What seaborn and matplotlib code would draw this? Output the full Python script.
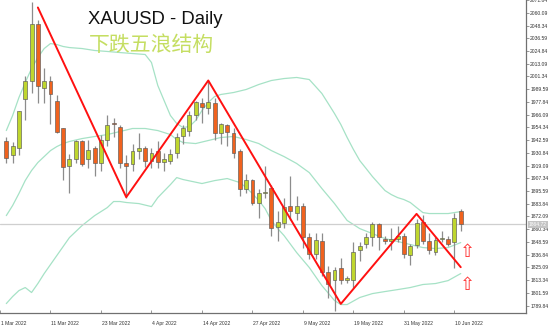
import matplotlib
matplotlib.use("Agg")
import numpy as np
import pandas as pd
import seaborn as sns
import matplotlib.pyplot as plt

# ---------------- data ----------------
opens = [1942.2, 1928.4, 1935.7, 1980.1, 1996.7, 2050.2, 1991.1, 1996.7, 1979.1, 1953.3,
         1919.1, 1925.6, 1941.3, 1924.7, 1935.7, 1921.0, 1943.1, 1958.8, 1955.1, 1921.0,
         1920.1, 1932.1, 1935.7, 1923.7, 1932.1, 1922.8, 1923.7, 1931.1, 1946.8, 1951.4,
         1966.2, 1976.4, 1971.8, 1976.4, 1948.7, 1956.1, 1949.6, 1932.1, 1897.9, 1905.3,
         1884.1, 1894.2, 1898.8, 1862.8, 1866.5, 1881.3, 1875.7, 1882.2, 1852.7, 1837.9,
         1849.9, 1820.4, 1813.0, 1824.1, 1813.9, 1813.9, 1840.7, 1847.1, 1852.7, 1864.7,
         1851.7, 1849.0, 1851.7, 1854.5, 1836.1, 1846.2, 1867.4, 1849.0, 1839.7, 1851.7,
         1851.7, 1848.1, 1877.6]
highs = [1945.0, 1940.4, 1969.9, 2001.3, 2070.5, 2053.0, 2008.7, 2001.3, 1983.8, 1954.2,
         1930.2, 1943.1, 1943.1, 1943.1, 1937.6, 1947.7, 1965.3, 1963.4, 1956.1, 1928.4,
         1939.4, 1948.7, 1937.6, 1935.7, 1942.2, 1931.1, 1934.8, 1948.7, 1956.1, 1969.9,
         1979.1, 1981.0, 1996.7, 1981.9, 1958.8, 1957.0, 1954.2, 1934.8, 1911.7, 1907.1,
         1897.9, 1919.1, 1900.7, 1877.6, 1888.7, 1909.9, 1891.4, 1884.1, 1857.3, 1856.4,
         1857.3, 1826.8, 1825.9, 1834.2, 1817.6, 1848.1, 1848.1, 1856.4, 1867.4, 1866.5,
         1854.5, 1861.0, 1863.7, 1856.4, 1847.1, 1870.2, 1873.0, 1856.4, 1852.7, 1859.1,
         1854.5, 1875.7, 1879.4]
lows = [1921.9, 1921.0, 1928.4, 1960.7, 1985.6, 1976.4, 1976.4, 1957.9, 1948.7, 1905.3,
        1894.2, 1921.0, 1919.1, 1916.4, 1909.9, 1914.5, 1937.6, 1945.0, 1916.4, 1889.6,
        1914.5, 1925.6, 1917.3, 1916.4, 1916.4, 1914.5, 1920.1, 1926.5, 1939.4, 1946.8,
        1960.7, 1958.8, 1967.1, 1943.1, 1939.4, 1936.7, 1926.5, 1891.4, 1894.2, 1883.0,
        1871.1, 1889.6, 1854.5, 1849.9, 1861.0, 1868.4, 1868.4, 1843.4, 1833.3, 1833.3,
        1817.6, 1797.3, 1785.3, 1810.2, 1811.1, 1806.5, 1831.4, 1843.4, 1845.3, 1840.7,
        1847.1, 1840.7, 1848.1, 1834.2, 1827.7, 1843.4, 1847.1, 1837.9, 1836.1, 1848.1,
        1844.4, 1824.1, 1859.1]
closes = [1926.5, 1936.7, 1969.0, 1996.7, 2050.2, 1992.1, 1996.7, 1984.7, 1950.5, 1917.3,
          1924.7, 1941.3, 1920.1, 1933.9, 1921.0, 1943.1, 1956.1, 1957.0, 1921.0, 1919.1,
          1932.1, 1935.7, 1923.7, 1931.1, 1922.8, 1924.7, 1930.2, 1945.0, 1953.3, 1965.3,
          1977.3, 1972.7, 1978.2, 1948.7, 1957.0, 1950.5, 1931.1, 1897.9, 1905.3, 1884.1,
          1893.3, 1895.1, 1861.9, 1867.4, 1880.4, 1876.7, 1881.3, 1852.7, 1837.9, 1850.8,
          1820.4, 1810.2, 1823.1, 1813.0, 1815.7, 1839.7, 1844.4, 1852.7, 1865.6, 1852.7,
          1849.9, 1851.7, 1854.5, 1837.0, 1845.3, 1866.5, 1849.9, 1841.6, 1850.8, 1852.2,
          1847.1, 1871.1, 1864.7]

upper_idx = [0, 1, 2, 3, 4, 5, 6, 7, 8, 9, 10, 12, 14, 16, 18, 20, 22, 23, 24, 25, 26, 27, 28,
             29, 30, 31, 32, 33, 34, 36, 38, 40, 42, 44, 46, 48, 49, 50, 51, 52, 53, 54, 55,
             56, 57, 58, 59, 60, 61, 62, 63, 64, 65, 66, 67, 68, 70, 72]
upper_val = [1951.4, 1965.3, 1981.9, 1995.7, 2008.7, 2018.8, 2027.1, 2031.7, 2030.8, 2029.0,
             2028.0, 2027.1, 2025.3, 2024.4, 2023.4, 2022.5, 2021.6, 2014.2, 1993.0, 1979.1,
             1965.3, 1957.9, 1954.2, 1955.1, 1960.7, 1969.9, 1977.3, 1982.8, 1984.7, 1986.5,
             1989.3, 1993.9, 1997.6, 1999.4, 2000.4, 1998.5, 1992.1, 1985.6, 1976.4, 1967.1,
             1957.0, 1945.0, 1933.9, 1923.7, 1916.4, 1909.0, 1902.5, 1896.0, 1892.3, 1889.5,
             1887.7, 1885.0, 1880.3, 1875.7, 1874.8, 1874.8, 1874.8, 1876.6]
mid_idx = [0, 1, 2, 3, 4, 5, 6, 7, 8, 9, 10, 12, 14, 16, 18, 20, 22, 24, 26, 27, 28, 30, 32,
           34, 36, 38, 40, 42, 44, 46, 48, 50, 52, 54, 56, 58, 60, 62, 64, 66, 68, 70, 72]
mid_val = [1872.9, 1882.2, 1893.3, 1905.3, 1914.5, 1921.9, 1927.4, 1932.9, 1936.6, 1939.4,
           1941.3, 1944.0, 1945.9, 1947.7, 1950.5, 1953.3, 1953.3, 1951.4, 1947.7, 1943.1,
           1940.4, 1939.4, 1942.2, 1945.0, 1945.9, 1943.1, 1939.4, 1932.9, 1927.4, 1921.0,
           1912.6, 1897.9, 1884.0, 1868.4, 1860.9, 1856.3, 1851.7, 1849.0, 1846.2, 1843.4,
           1842.5, 1843.4, 1848.0]
low_idx = [0, 1, 2, 3, 4, 5, 6, 7, 8, 9, 10, 12, 14, 16, 17, 18, 19, 21, 23, 24, 26, 27, 28,
           31, 33, 35, 37, 38, 39, 40, 41, 42, 43, 44, 46, 48, 50, 52, 53, 54, 56, 58, 60, 62,
           64, 66, 68, 70, 72]
low_val = [1791.7, 1798.2, 1803.7, 1806.5, 1801.9, 1810.2, 1819.4, 1827.7, 1836.0, 1844.3,
           1852.6, 1863.7, 1872.9, 1880.3, 1885.9, 1885.9, 1885.0, 1884.0, 1881.2, 1889.5,
           1901.5, 1908.0, 1906.2, 1902.5, 1905.2, 1907.1, 1903.4, 1898.8, 1893.2, 1886.8,
           1879.4, 1868.3, 1860.9, 1854.5, 1838.8, 1825.0, 1808.3, 1794.5, 1790.8, 1790.8,
           1797.3, 1800.9, 1802.8, 1804.6, 1806.5, 1809.3, 1810.2, 1812.9, 1819.4]

zz_idx = [5, 19, 32, 53, 65, 72]
zz_val = [2065.0, 1889.9, 1997.6, 1791.4, 1874.5, 1825.3]

xtick_idx = [-1, 7, 15, 23, 31, 39, 47, 55, 63, 71]
xtick_labels = ["1 Mar 2022", "11 Mar 2022", "23 Mar 2022", "4 Apr 2022", "14 Apr 2022",
                "27 Apr 2022", "9 May 2022", "19 May 2022", "31 May 2022", "10 Jun 2022"]
ytick_labels = ["2071.84", "2060.09", "2048.34", "2036.59", "2024.84", "2013.09", "2001.34",
                "1989.59", "1977.84", "1966.09", "1954.34", "1942.59", "1930.84", "1919.09",
                "1907.34", "1895.59", "1883.84", "1872.09", "1860.34", "1848.59", "1836.84",
                "1825.09", "1813.34", "1801.59", "1789.84"]
last_price = 1864.72
arrow_idx = [73.1, 73.1]
arrow_val = [1839.5, 1808.5]
title = "XAUUSD - Daily"
subtitle = "下跌五浪结构"

# ---------------- figure ----------------
sns.set_theme(style="white")
plt.rcParams["font.family"] = ["Liberation Sans", "DejaVu Sans"]

W, H = 554, 329
fig = plt.figure(figsize=(W / 100, H / 100), dpi=100)
ax = fig.add_axes([0, 16 / H, 526 / W, 313 / H])

BULL = "#bfd62e"
BEAR = "#f0621e"
BAND = "#a6e2c6"

n = len(opens)
idx = np.arange(n)
o = np.array(opens); c = np.array(closes)
hi = np.array(highs); lo = np.array(lows)
bull = c >= o

# bands
bands = pd.concat([
    pd.DataFrame({"i": upper_idx, "v": upper_val, "b": "upper"}),
    pd.DataFrame({"i": mid_idx, "v": mid_val, "b": "mid"}),
    pd.DataFrame({"i": low_idx, "v": low_val, "b": "low"}),
])
sns.lineplot(data=bands, x="i", y="v", units="b", estimator=None, color=BAND,
             lw=0.9, ax=ax, sort=True, zorder=1)

# current price line
ax.axhline(last_price, color="#cfcfcf", lw=0.9, zorder=1.5)

# wicks
ax.vlines(idx, lo, hi, color="#8c8c8c", lw=0.9, zorder=2)
# bodies
bottoms = np.minimum(o, c)
heights = np.maximum(np.abs(c - o), 0.6)
colors = [BULL if b else BEAR for b in bull]
ax.bar(idx, heights, bottom=bottoms, width=0.62, color=colors,
       edgecolor="#5a5a5a", linewidth=0.45, zorder=3)

# zigzag
sns.lineplot(x=zz_idx, y=zz_val, color="#ff1010", lw=1.4, ax=ax, sort=False,
             estimator=None, zorder=4)

# arrows (hollow up arrows)
for ai, av in zip(arrow_idx, arrow_val):
    ax.text(ai, av, "\u21e7", color="#ff3030", fontsize=13, ha="center", va="center",
            family="DejaVu Sans", zorder=5)

# limits
ax.set_xlim(0.156, 82.34)
ax.set_ylim(1783.0, 2071.9)
ax.set_xlabel(""); ax.set_ylabel("")

# spines
for s in ["top", "left"]:
    ax.spines[s].set_visible(False)
for s in ["right", "bottom"]:
    ax.spines[s].set_visible(True)
    ax.spines[s].set_color("#707070")
    ax.spines[s].set_linewidth(0.9)

# y ticks on right
yvals = [float(t) for t in ytick_labels]
ax.yaxis.tick_right()
ax.set_yticks(yvals)
ax.set_yticklabels(ytick_labels)
ax.tick_params(axis="y", which="both", right=True, left=False, length=2, width=0.5,
               color="#707070", pad=1, labelsize=3.6, labelcolor="#333333")

# x ticks (labels left aligned right at the tick, MT4 style)
ax.set_xticks(xtick_idx)
ax.set_xticklabels([])
ax.tick_params(axis="x", which="both", bottom=True, length=2.5, width=0.5,
               color="#707070", direction="in")
for xi, lab in zip(xtick_idx, xtick_labels):
    ax.annotate(lab, xy=(xi, 0), xycoords=("data", "axes fraction"),
                xytext=(0.4, -7.5), textcoords="offset points", fontsize=3.6,
                color="#333333", ha="left", va="center", annotation_clip=False)

# last price label
ax.annotate(f"{last_price:.2f}", xy=(1, last_price), xycoords=("axes fraction", "data"),
            xytext=(2.2, 0), textcoords="offset points", fontsize=3.6, color="#ffffff",
            ha="left", va="center", annotation_clip=False,
            bbox=dict(boxstyle="square,pad=0.15", fc="#c4c4c4", ec="none"))

ax.grid(False)

# titles
fig.text(88 / W, 1 - 24 / H, title, fontsize=13.3, color="#111111", ha="left",
         va="baseline", family=["Liberation Sans", "DejaVu Sans"])
fig.text(89 / W, 1 - 51 / H, subtitle, fontsize=15, color="#c5de62", ha="left",
         va="baseline", family=["Noto Sans CJK SC", "DejaVu Sans"])

fig.savefig("out.png", dpi=100, facecolor="white")
